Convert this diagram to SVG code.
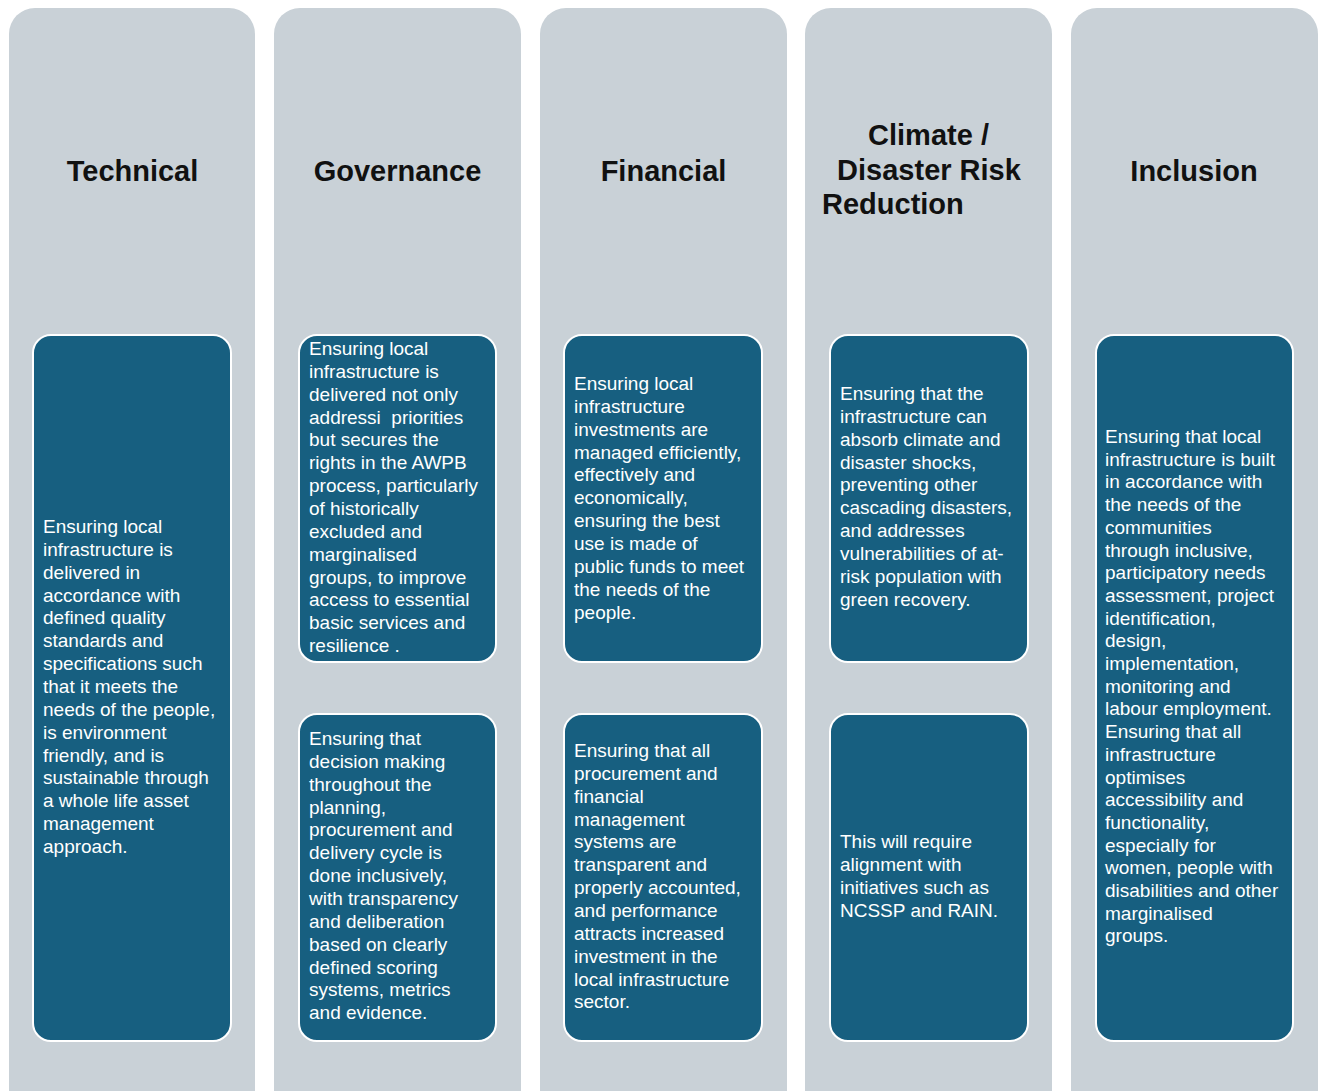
<svg xmlns="http://www.w3.org/2000/svg" width="1323" height="1091" viewBox="0 0 1323 1091">
<style>
.col{fill:#c9d1d7}
.box{fill:#175f80;stroke:#ffffff;stroke-width:2}
.title{font-family:"Liberation Sans",Arial,sans-serif;font-weight:bold;font-size:29px;fill:#111111}
.body{font-family:"Liberation Sans",Arial,sans-serif;font-size:19px;fill:#ffffff}
</style>
<rect width="1323" height="1091" fill="#ffffff"/>
<g id="col-technical">
<rect class="col" x="9" y="8" width="246" height="1120" rx="26"/>
<text class="title" x="132.5" y="181" text-anchor="middle">Technical</text>
</g>
<g id="col-governance">
<rect class="col" x="274" y="8" width="247" height="1120" rx="26"/>
<text class="title" x="397.5" y="181" text-anchor="middle">Governance</text>
</g>
<g id="col-financial">
<rect class="col" x="540" y="8" width="247" height="1120" rx="26"/>
<text class="title" x="663.5" y="181" text-anchor="middle">Financial</text>
</g>
<g id="col-climate">
<rect class="col" x="805" y="8" width="247" height="1120" rx="26"/>
<text class="title" x="928.5" y="145" text-anchor="middle">Climate /</text>
<text class="title" x="929" y="180" text-anchor="middle">Disaster Risk</text>
<text class="title" x="822" y="214">Reduction</text>
</g>
<g id="col-inclusion">
<rect class="col" x="1071" y="8" width="247" height="1120" rx="26"/>
<text class="title" x="1194" y="181" text-anchor="middle">Inclusion</text>
</g>
<g id="box-technical">
<rect class="box" x="33" y="335" width="198" height="706" rx="18"/>
<text class="body" x="43" y="533"><tspan x="43">Ensuring local</tspan><tspan x="43" dy="22.85">infrastructure is</tspan><tspan x="43" dy="22.85">delivered in</tspan><tspan x="43" dy="22.85">accordance with</tspan><tspan x="43" dy="22.85">defined quality</tspan><tspan x="43" dy="22.85">standards and</tspan><tspan x="43" dy="22.85">specifications such</tspan><tspan x="43" dy="22.85">that it meets the</tspan><tspan x="43" dy="22.85">needs of the people,</tspan><tspan x="43" dy="22.85">is environment</tspan><tspan x="43" dy="22.85">friendly, and is</tspan><tspan x="43" dy="22.85">sustainable through</tspan><tspan x="43" dy="22.85">a whole life asset</tspan><tspan x="43" dy="22.85">management</tspan><tspan x="43" dy="22.85">approach.</tspan></text>
</g>
<g id="box-governance-1">
<rect class="box" x="299" y="335" width="197" height="327" rx="18"/>
<text class="body" x="309" y="355"><tspan x="309">Ensuring local</tspan><tspan x="309" dy="22.85">infrastructure is</tspan><tspan x="309" dy="22.85">delivered not only</tspan><tspan x="309" dy="22.85">addressi&#160; priorities</tspan><tspan x="309" dy="22.85">but secures the</tspan><tspan x="309" dy="22.85">rights in the AWPB</tspan><tspan x="309" dy="22.85">process, particularly</tspan><tspan x="309" dy="22.85">of historically</tspan><tspan x="309" dy="22.85">excluded and</tspan><tspan x="309" dy="22.85">marginalised</tspan><tspan x="309" dy="22.85">groups, to improve</tspan><tspan x="309" dy="22.85">access to essential</tspan><tspan x="309" dy="22.85">basic services and</tspan><tspan x="309" dy="22.85">resilience .</tspan></text>
</g>
<g id="box-governance-2">
<rect class="box" x="299" y="714" width="197" height="327" rx="18"/>
<text class="body" x="309" y="745"><tspan x="309">Ensuring that</tspan><tspan x="309" dy="22.85">decision making</tspan><tspan x="309" dy="22.85">throughout the</tspan><tspan x="309" dy="22.85">planning,</tspan><tspan x="309" dy="22.85">procurement and</tspan><tspan x="309" dy="22.85">delivery cycle is</tspan><tspan x="309" dy="22.85">done inclusively,</tspan><tspan x="309" dy="22.85">with transparency</tspan><tspan x="309" dy="22.85">and deliberation</tspan><tspan x="309" dy="22.85">based on clearly</tspan><tspan x="309" dy="22.85">defined scoring</tspan><tspan x="309" dy="22.85">systems, metrics</tspan><tspan x="309" dy="22.85">and evidence.</tspan></text>
</g>
<g id="box-financial-1">
<rect class="box" x="564" y="335" width="198" height="327" rx="18"/>
<text class="body" x="574" y="390"><tspan x="574">Ensuring local</tspan><tspan x="574" dy="22.85">infrastructure</tspan><tspan x="574" dy="22.85">investments are</tspan><tspan x="574" dy="22.85">managed efficiently,</tspan><tspan x="574" dy="22.85">effectively and</tspan><tspan x="574" dy="22.85">economically,</tspan><tspan x="574" dy="22.85">ensuring the best</tspan><tspan x="574" dy="22.85">use is made of</tspan><tspan x="574" dy="22.85">public funds to meet</tspan><tspan x="574" dy="22.85">the needs of the</tspan><tspan x="574" dy="22.85">people.</tspan></text>
</g>
<g id="box-financial-2">
<rect class="box" x="564" y="714" width="198" height="327" rx="18"/>
<text class="body" x="574" y="757"><tspan x="574">Ensuring that all</tspan><tspan x="574" dy="22.85">procurement and</tspan><tspan x="574" dy="22.85">financial</tspan><tspan x="574" dy="22.85">management</tspan><tspan x="574" dy="22.85">systems are</tspan><tspan x="574" dy="22.85">transparent and</tspan><tspan x="574" dy="22.85">properly accounted,</tspan><tspan x="574" dy="22.85">and performance</tspan><tspan x="574" dy="22.85">attracts increased</tspan><tspan x="574" dy="22.85">investment in the</tspan><tspan x="574" dy="22.85">local infrastructure</tspan><tspan x="574" dy="22.85">sector.</tspan></text>
</g>
<g id="box-climate-1">
<rect class="box" x="830" y="335" width="198" height="327" rx="18"/>
<text class="body" x="840" y="400"><tspan x="840">Ensuring that the</tspan><tspan x="840" dy="22.85">infrastructure can</tspan><tspan x="840" dy="22.85">absorb climate and</tspan><tspan x="840" dy="22.85">disaster shocks,</tspan><tspan x="840" dy="22.85">preventing other</tspan><tspan x="840" dy="22.85">cascading disasters,</tspan><tspan x="840" dy="22.85">and addresses</tspan><tspan x="840" dy="22.85">vulnerabilities of at-</tspan><tspan x="840" dy="22.85">risk population with</tspan><tspan x="840" dy="22.85">green recovery.</tspan></text>
</g>
<g id="box-climate-2">
<rect class="box" x="830" y="714" width="198" height="327" rx="18"/>
<text class="body" x="840" y="848"><tspan x="840">This will require</tspan><tspan x="840" dy="22.85">alignment with</tspan><tspan x="840" dy="22.85">initiatives such as</tspan><tspan x="840" dy="22.85">NCSSP and RAIN.</tspan></text>
</g>
<g id="box-inclusion">
<rect class="box" x="1096" y="335" width="197" height="706" rx="18"/>
<text class="body" x="1105" y="443"><tspan x="1105">Ensuring that local</tspan><tspan x="1105" dy="22.7">infrastructure is built</tspan><tspan x="1105" dy="22.7">in accordance with</tspan><tspan x="1105" dy="22.7">the needs of the</tspan><tspan x="1105" dy="22.7">communities</tspan><tspan x="1105" dy="22.7">through inclusive,</tspan><tspan x="1105" dy="22.7">participatory needs</tspan><tspan x="1105" dy="22.7">assessment, project</tspan><tspan x="1105" dy="22.7">identification,</tspan><tspan x="1105" dy="22.7">design,</tspan><tspan x="1105" dy="22.7">implementation,</tspan><tspan x="1105" dy="22.7">monitoring and</tspan><tspan x="1105" dy="22.7">labour employment.</tspan><tspan x="1105" dy="22.7">Ensuring that all</tspan><tspan x="1105" dy="22.7">infrastructure</tspan><tspan x="1105" dy="22.7">optimises</tspan><tspan x="1105" dy="22.7">accessibility and</tspan><tspan x="1105" dy="22.7">functionality,</tspan><tspan x="1105" dy="22.7">especially for</tspan><tspan x="1105" dy="22.7">women, people with</tspan><tspan x="1105" dy="22.7">disabilities and other</tspan><tspan x="1105" dy="22.7">marginalised</tspan><tspan x="1105" dy="22.7">groups.</tspan></text>
</g>
<g id="connectors"></g>
</svg>
